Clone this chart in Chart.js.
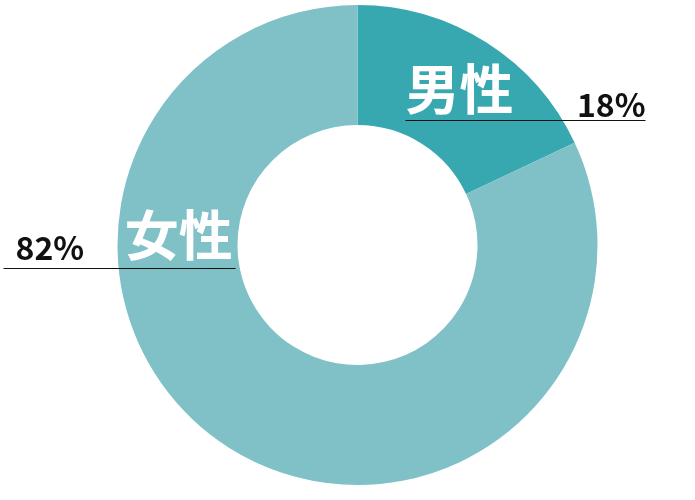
<!DOCTYPE html>
<html>
<head>
<meta charset="utf-8">
<script src="https://cdn.jsdelivr.net/npm/chart.js@4"></script>
<style>
  html, body { margin: 0; padding: 0; background: #fff; }
  #wrap { width: 695px; height: 500px; position: relative; }
</style>
</head>
<body>
<div id="wrap"><canvas id="genderChart"></canvas></div>
<script>
// Data
const labels = ['男性', '女性'];
const shares = [18, 82];
const colors = ['#38a8b0', '#80c1c8'];

// label placement, relative to the centre in units of outer radius
const namePos = [{ dx: 0.425, dy: -0.65 }, { dx: -0.745, dy: -0.04 }];
const pctPos = [{ dx: 1.2, dy: -0.535, align: 'right' }, { dx: -1.425, dy: 0.063, align: 'left' }];
const rulePos = [{ x0: 0.2, x1: 1.2, dy: -0.52 }, { x0: -1.475, x1: -0.508, dy: 0.095 }];

const labelPlugin = {
    id: 'sliceLabels',
    afterDraw(chart) {
        const ctx = chart.ctx;
        const arc = chart.getDatasetMeta(0).data[0];
        const cx = arc.x, cy = arc.y, r = arc.outerRadius;
        ctx.save();
        labels.forEach((name, i) => {
            // underline
            ctx.strokeStyle = '#111';
            ctx.lineWidth = 1.2;
            ctx.beginPath();
            ctx.moveTo(cx + rulePos[i].x0 * r, Math.round(cy + rulePos[i].dy * r) + 0.5);
            ctx.lineTo(cx + rulePos[i].x1 * r, Math.round(cy + rulePos[i].dy * r) + 0.5);
            ctx.stroke();

            // category name
            ctx.fillStyle = '#fff';
            ctx.font = 'bold 54px "Noto Sans CJK JP", sans-serif';
            ctx.textAlign = 'center';
            ctx.textBaseline = 'middle';
            ctx.fillText(name, cx + namePos[i].dx * r, cy + namePos[i].dy * r);

            // percentage
            ctx.fillStyle = '#111';
            ctx.font = 'bold 32px "Noto Sans CJK JP", sans-serif';
            ctx.textAlign = pctPos[i].align;
            ctx.textBaseline = 'alphabetic';
            ctx.fillText(shares[i] + '%', cx + pctPos[i].dx * r, cy + pctPos[i].dy * r);
        });
        ctx.restore();
    }
};

new Chart(document.getElementById('genderChart'), {
    type: 'doughnut',
    data: {
        labels: labels,
        datasets: [{
            data: shares,
            backgroundColor: colors,
            borderWidth: 0
        }]
    },
    options: {
        responsive: true,
        maintainAspectRatio: false,
        animation: false,
        cutout: '50%',
        layout: { padding: { top: 5, bottom: 15, left: 20, right: 0 } },
        plugins: {
            legend: { display: false },
            tooltip: { enabled: false }
        }
    },
    plugins: [labelPlugin]
});
</script>
</body>
</html>
